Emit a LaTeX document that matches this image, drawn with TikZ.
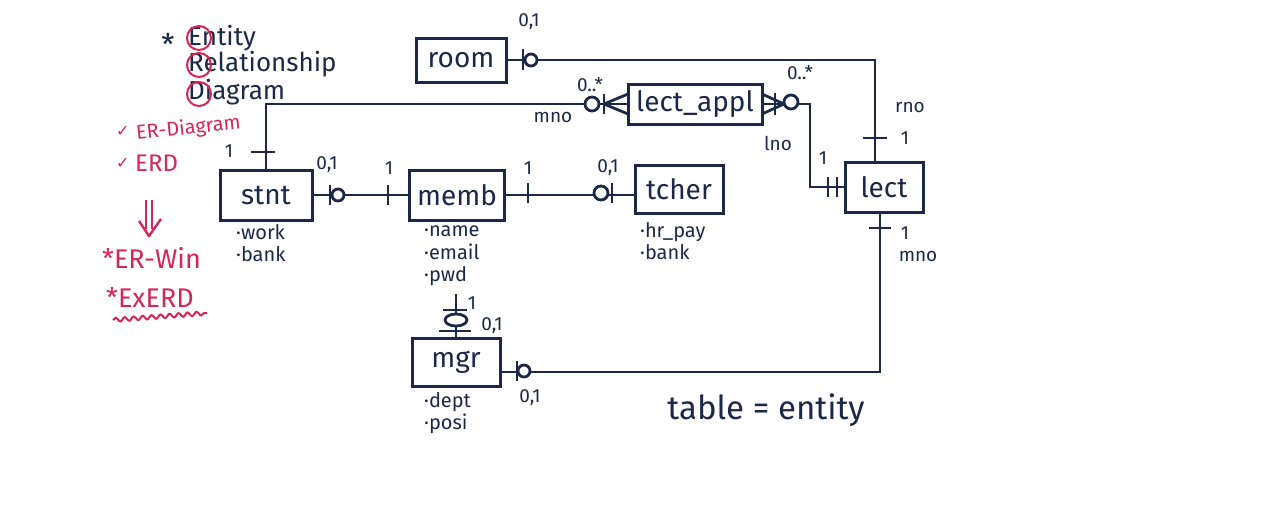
\documentclass[tikz,border=0pt]{standalone}
\usepackage{fontspec}
\setmainfont{Fira Sans}
\newfontfamily\symfont{DejaVu Sans}
\usetikzlibrary{calc}
\usetikzlibrary{decorations.pathmorphing}
\definecolor{ink}{RGB}{28,40,72}
\definecolor{pen}{RGB}{214,38,88}

\begin{document}
\begin{tikzpicture}[x=1pt,y=-1pt,
	ent/.style={draw=ink, line width=3pt, inner sep=0pt, text=ink, font=\fontsize{28}{30}\selectfont},
	link/.style={draw=ink, line width=2.8pt},
	attr/.style={anchor=north west, align=left, inner sep=0pt, text=ink, font=\fontsize{20}{22.5}\selectfont},
	card/.style={text=ink, inner sep=0pt, font=\fontsize{19}{21}\selectfont},
	note/.style={text=pen, anchor=west, inner sep=0pt, font=\fontsize{26}{28}\selectfont}]
	\useasboundingbox (0,0) rectangle (1280,509);

	% entities
	\node[ent, minimum width=90pt, minimum height=44pt] (room) at (461,60) {room};
	\node[ent, minimum width=134pt, minimum height=40pt] (lappl) at (695,104) {lect\_appl};
	\node[ent, minimum width=92pt, minimum height=50pt] (stnt) at (266,195) {stnt};
	\node[ent, minimum width=95pt, minimum height=50pt] (memb) at (457,195) {memb};
	\node[ent, minimum width=88pt, minimum height=48pt] (tcher) at (679,189) {tcher};
	\node[ent, minimum width=78pt, minimum height=50pt] (lect) at (884,187) {lect};
	\node[ent, minimum width=88pt, minimum height=48pt] (mgr) at (456,362) {mgr};

	\node[attr] (stntattr) at (236,224) {·work\\·bank};
	\node[attr] (membattr) at (424,226) {·name\\·email\\·pwd};
	\node[attr] (tcherattr) at (640,222) {·hr\_pay\\·bank};
	\node[attr] (mgrattr) at (424,392) {·dept\\·posi};

	% connectors
	\coordinate (rc) at (875,60);
	\draw[link] (room.east) -- (rc) -- (rc |- lect.north);
	\draw[link] (stnt.north) |- (lappl.west);
	\coordinate (lc) at (810,104);
	\draw[link] (lappl.east) -- (lc) |- (lect.west);
	\draw[link] (stnt.east) -- (memb.west);
	\draw[link] (memb.east) -- (memb.east -| tcher.west);
	\coordinate (mc) at (880,372);
	\draw[link] (lect.south -| mc) -- (mc) -- (mc -| mgr.east);
	\draw[link, shorten <=8pt] (membattr.south -| mgr.north) -- (mgr.north);

	% cardinality marks
	\draw[link, fill=white] (531,60) circle (6pt);
	\draw[link] (523,49) -- (523,70);
	\draw[link] (863,138) -- (887,138);
	\draw[link] (251,152) -- (275,152);
	\draw[link, fill=white] (592,104) circle (7pt);
	\draw[link] (604,94) -- (604,114);
	\draw[link] (628,94) -- (604,104) -- (628,114);
	\draw[link] (762,94) -- (784,104) -- (762,114);
	\draw[link] (775,93) -- (775,115);
	\draw[link, fill=white] (791,102) circle (7pt);
	\draw[link] (828,177) -- (828,197);
	\draw[link] (837,177) -- (837,197);
	\draw[link] (330,185) -- (330,205);
	\draw[link, fill=white] (338,195) circle (6pt);
	\draw[link] (388,185) -- (388,205);
	\draw[link] (528,183) -- (528,203);
	\draw[link, fill=white] (601,193) circle (7pt);
	\draw[link] (612,183) -- (612,203);
	\draw[link] (869,228) -- (891,228);
	\draw[link, fill=white] (524,371) circle (6pt);
	\draw[link] (517,361) -- (517,381);
	\draw[link] (443,310) -- (467,310);
	\draw[link, fill=white] (456,320) ellipse (11pt and 6pt);
	\draw[link] (439,331) -- (471,331);

	\node[card] at (529,22) {0,1};
	\node[card] at (910,107) {rno};
	\node[card] at (905,138) {1};
	\node[card] at (590,85) {0..*};
	\node[card] at (553,117) {mno};
	\node[card] at (800,73) {0..*};
	\node[card] at (778,143) {lno};
	\node[card] at (823,158) {1};
	\node[card] at (229,151) {1};
	\node[card] at (327,165) {0,1};
	\node[card] at (389,168) {1};
	\node[card] at (528,168) {1};
	\node[card] at (608,168) {0,1};
	\node[card] at (905,233) {1};
	\node[card] at (918,256) {mno};
	\node[card] at (530,398) {0,1};
	\node[card] at (472,303) {1};
	\node[card] at (492,326) {0,1};

	\node[text=ink, font=\fontsize{33}{35}\selectfont] (eq) at (766,410) {table = entity};

	% notes
	\node[text=ink, font=\fontsize{30}{30}\selectfont] (ast) at (168,44) {*};
	\node[note, text=ink] (ent) at (188,38) {Entity};
	\node[note, text=ink] (rel) at (188,64) {Relationship};
	\node[note, text=ink] (dia) at (188,92) {Diagram};
	\draw[pen, line width=2pt] (199,38) circle (12pt);
	\draw[pen, line width=2pt] (199,65) circle (12pt);
	\draw[pen, line width=2pt] (199,94) circle (12pt);

	\node[note, font=\fontsize{16}{18}\selectfont] (ck1) at (116,131) {\symfont ✓};
	\node[note, font=\fontsize{20}{22}\selectfont, rotate=6] (erdia) at (136,134) {ER-Diagram};
	\node[note, font=\fontsize{16}{18}\selectfont] (ck2) at (116,163) {\symfont ✓};
	\node[note, font=\fontsize{24}{26}\selectfont] (erd) at (135,163) {ERD};
	\draw[pen, line width=2.4pt] (146,200) -- (146,229);
	\draw[pen, line width=2.4pt] (152,200) -- (152,229);
	\draw[pen, line width=2.4pt, line join=round] (139,221) -- (149,236) -- (161,219);
	\node[note, font=\fontsize{27}{29}\selectfont] (erwin) at (102,258) {*ER-Win};
	\node[note, font=\fontsize{27}{29}\selectfont] (exerd) at (106,298) {*ExERD};
	\draw[pen, line width=2pt, decorate, decoration={snake, amplitude=2pt, segment length=9pt}] (113,320) -- (207,313);
\end{tikzpicture}
\end{document}
